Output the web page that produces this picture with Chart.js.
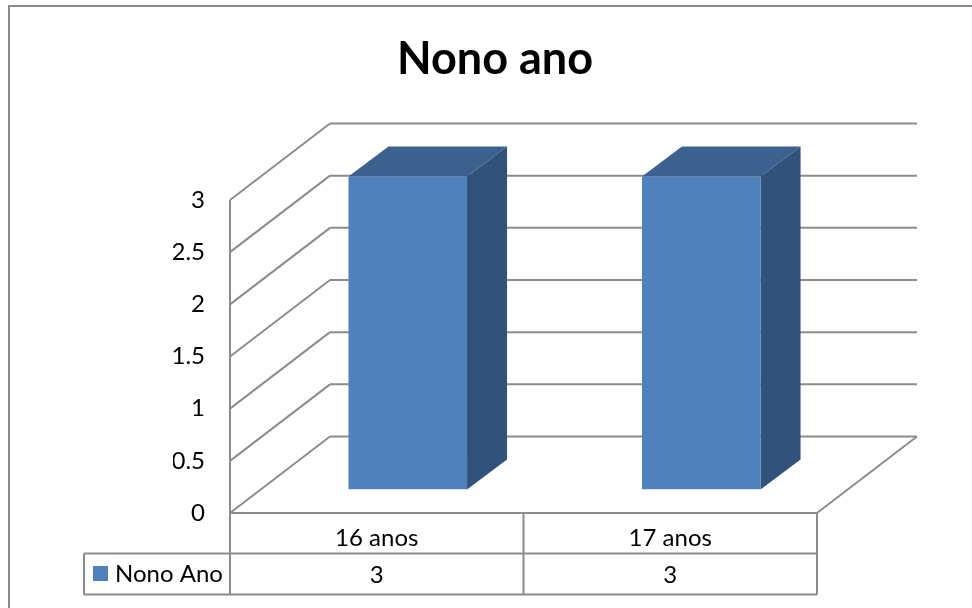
<!DOCTYPE html>
<html>
<head>
<meta charset="utf-8">
<style>html,body{margin:0;padding:0;background:#fff}#w{width:972px;height:608px}</style>
<script src="https://cdn.jsdelivr.net/npm/chart.js@4"></script>
</head>
<body>
<div id="w"><canvas id="c" width="972" height="608"></canvas></div>
<script>
const categories = ['16 anos', '17 anos'];
const seriesName = 'Nono Ano';
const seriesValues = [3, 3];
const chartTitle = 'Nono ano';
const yTicks = [0, 0.5, 1, 1.5, 2, 2.5, 3];

const GREY = '#8c8c8c', FONT = 'Lato, Carlito, sans-serif';
const WALL = {dx: 100, dy: -76.5}, BAR = {dx: 31, dy: -23.5}, SIDE = {dx: 40, dy: -30};
const TABLE = {left: 84, mid: 553.5, bottom: 594.5};

function line(ctx, x1, y1, x2, y2, w) {
  ctx.beginPath(); ctx.moveTo(x1, y1); ctx.lineTo(x2, y2);
  ctx.lineWidth = w || 2; ctx.strokeStyle = GREY; ctx.stroke();
}
function poly(ctx, pts, fill) {
  ctx.beginPath(); pts.forEach((p, i) => i ? ctx.lineTo(p[0], p[1]) : ctx.moveTo(p[0], p[1]));
  ctx.closePath(); ctx.fillStyle = fill; ctx.fill();
}

const scene = {
  id: 'scene',
  beforeDatasetsDraw(chart) {
    const {ctx, scales: {x, y}, chartArea: a} = chart;
    ctx.save();
    // outer frame
    line(ctx, 9, 6, 972, 6); line(ctx, 9, 5, 9, 608);
    // walls
    y.ticks.forEach(t => {
      const py = y.getPixelForValue(t.value);
      line(ctx, a.left, py, a.left + WALL.dx, py + WALL.dy);
      line(ctx, a.left + WALL.dx, py + WALL.dy, a.right + WALL.dx, py + WALL.dy);
    });
    line(ctx, a.right, a.bottom, a.right + WALL.dx, a.bottom + WALL.dy);
    // front edge + table
    line(ctx, a.left, a.top, a.left, TABLE.bottom);
    line(ctx, a.left, a.bottom, a.right, a.bottom);
    line(ctx, TABLE.left, TABLE.mid, a.right, TABLE.mid);
    line(ctx, TABLE.left, TABLE.bottom, a.right, TABLE.bottom);
    line(ctx, TABLE.left, TABLE.mid, TABLE.left, TABLE.bottom);
    line(ctx, a.right, a.bottom, a.right, TABLE.bottom);
    const sep = (x.getPixelForValue(0) + x.getPixelForValue(1)) / 2;
    line(ctx, sep, a.bottom, sep, TABLE.bottom);
    // table text
    ctx.fillStyle = '#000'; ctx.textBaseline = 'middle'; ctx.font = '24px ' + FONT;
    ctx.textAlign = 'center';
    seriesValues.forEach((v, i) => ctx.fillText(String(v), x.getPixelForValue(i), 575));
    ctx.textAlign = 'left';
    ctx.fillText(seriesName, 115, 574);
    ctx.fillStyle = '#4f81bd'; ctx.fillRect(93, 566, 15, 15);
    ctx.restore();
  },
  beforeDatasetDraw(chart, args) {
    const {ctx} = chart;
    ctx.save();
    ctx.translate(BAR.dx, BAR.dy);
    args.meta.data.forEach(b => {
      const p = b.getProps(['x', 'y', 'base', 'width'], true);
      const l = p.x - p.width / 2, r = p.x + p.width / 2;
      poly(ctx, [[l, p.y], [l + SIDE.dx, p.y + SIDE.dy], [r + SIDE.dx, p.y + SIDE.dy], [r, p.y]], '#3d618f');
      poly(ctx, [[r, p.y], [r + SIDE.dx, p.y + SIDE.dy], [r + SIDE.dx, p.base + SIDE.dy], [r, p.base]], '#31527a');
    });
  },
  afterDatasetDraw(chart) { chart.ctx.restore(); }
};

new Chart(document.getElementById('c'), {
  type: 'bar',
  data: {
    labels: categories,
    datasets: [{
      label: seriesName, data: seriesValues, backgroundColor: '#4f81bd', borderWidth: 0,
      categoryPercentage: 1, barPercentage: 0.404
    }]
  },
  plugins: [scene],
  options: {
    responsive: false, animation: false, devicePixelRatio: 1,
    layout: {padding: {left: 173, right: 155, top: 0, bottom: 14}},
    plugins: {
      legend: {display: false}, tooltip: {enabled: false},
      title: {
        display: true, text: chartTitle, color: '#000',
        font: {family: FONT, size: 45, weight: 'bold', lineHeight: 1.2},
        padding: {top: 32, bottom: 114}
      }
    },
    scales: {
      x: {
        grid: {display: false, drawTicks: false}, border: {display: false},
        afterFit(s) { s.height = 81; },
        ticks: {color: '#000', padding: 11, maxRotation: 0, font: {family: FONT, size: 24}}
      },
      y: {
        min: 0, max: 3, afterFit(s) { s.width = 57; },
        afterBuildTicks(s) { s.ticks = yTicks.map(v => ({value: v})); },
        grid: {display: false, drawTicks: false}, border: {display: false},
        ticks: {color: '#000', padding: 25, callback: v => String(v), font: {family: FONT, size: 24}}
      }
    }
  }
});
</script>
</body>
</html>
